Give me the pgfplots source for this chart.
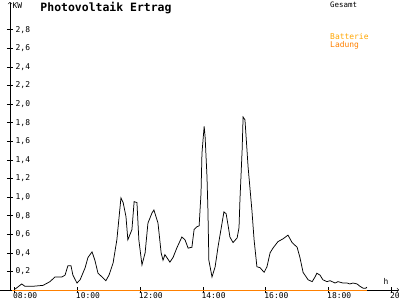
\documentclass[border=0pt]{standalone}
\usepackage{fontspec}
\setmainfont{DejaVu Sans Mono}
\usepackage{pgfplots}
\pgfplotsset{compat=1.18}
\definecolor{ladung}{RGB}{255,128,0}
\definecolor{batterie}{RGB}{255,165,0}
\begin{document}
\begin{tikzpicture}
\useasboundingbox (0bp,0bp) rectangle (400bp,300bp);
\draw[line width=0.6pt] (0bp,10bp) -- (10bp,10bp);
\begin{axis}[
  at={(10bp,10bp)}, anchor=south west,
  scale only axis, width=389bp, height=288bp,
  xmin=7.857, xmax=20.245, ymin=0, ymax=3.097,
  axis x line=bottom, axis y line=left,
  axis line style={->, line width=0.6pt},
  xtick={8,10,...,20},
  xticklabels={08:00,10:00,12:00,14:00,16:00,18:00,20:00},
  ytick={0.2,0.4,0.6,0.8,1.0,1.2,1.4,1.6,1.8,2.0,2.2,2.4,2.6,2.8},
  tick align=center, major tick length=6bp,
  tick style={black, line width=0.6pt},
  xticklabel style={anchor=north west, inner sep=0pt, yshift=0.5bp, xshift=-1.5bp},
  yticklabel style={anchor=west, inner sep=0pt, xshift=8.5bp},
  tick label style={font=\fontsize{8}{9}\selectfont},
  clip=false,
  /pgf/number format/.cd, use comma, fixed, fixed zerofill, precision=1, assume math mode=true,
]
\addplot[ladung, line width=1pt] coordinates {(7.93,0) (19.22,0)};
\addplot[black, line width=0.75pt] coordinates {
(8.02,0.01) (8.23,0.065) (8.33,0.04) (8.59,0.04) (8.91,0.05) (9.13,0.09)
(9.29,0.14) (9.51,0.14) (9.61,0.16) (9.70,0.26) (9.80,0.26) (9.86,0.16)
(9.99,0.075) (10.09,0.11) (10.25,0.24) (10.34,0.35) (10.47,0.41) (10.56,0.32)
(10.66,0.18) (10.79,0.14) (10.91,0.10) (11.01,0.16) (11.14,0.29) (11.26,0.54)
(11.39,0.99) (11.46,0.94) (11.55,0.79) (11.61,0.54) (11.74,0.65) (11.81,0.95)
(11.90,0.94) (11.96,0.54) (12.06,0.27) (12.16,0.40) (12.25,0.72) (12.38,0.83)
(12.44,0.86) (12.57,0.72) (12.67,0.40) (12.73,0.32) (12.79,0.38) (12.95,0.30)
(13.05,0.35) (13.18,0.46) (13.33,0.57) (13.43,0.54) (13.53,0.45) (13.65,0.46)
(13.72,0.65) (13.81,0.68) (13.88,0.69) (13.94,1.04) (13.97,1.47) (14.04,1.76)
(14.07,1.65) (14.13,1.22) (14.16,0.86) (14.19,0.32) (14.29,0.14) (14.39,0.25)
(14.48,0.46) (14.61,0.72) (14.67,0.84) (14.74,0.82) (14.80,0.70) (14.86,0.57)
(14.96,0.51) (15.09,0.56) (15.15,0.67) (15.18,0.97) (15.25,1.51) (15.28,1.86)
(15.34,1.83) (15.44,1.32) (15.56,0.86) (15.63,0.54) (15.72,0.25) (15.82,0.24)
(15.95,0.19) (16.04,0.25) (16.14,0.40) (16.23,0.45) (16.39,0.52) (16.55,0.55)
(16.71,0.59) (16.84,0.51) (17.00,0.46) (17.09,0.35) (17.19,0.19) (17.35,0.11)
(17.48,0.09) (17.57,0.14) (17.63,0.18) (17.73,0.16) (17.82,0.11) (17.95,0.09)
(18.05,0.10) (18.21,0.075) (18.30,0.09) (18.46,0.075) (18.59,0.075) (18.68,0.065)
(18.78,0.075) (18.91,0.065) (19.00,0.04) (19.10,0.02) (19.19,0.02) (19.22,0.03)
};
\end{axis}
\node[font=\bfseries\fontsize{11.5}{12}\selectfont] at (106bp,292bp) {Photovoltaik Ertrag};
\node[font=\fontsize{8}{9}\selectfont, anchor=west, inner sep=0pt] at (12.5bp,294.5bp) {KW};
\node[font=\fontsize{7.5}{9}\selectfont, anchor=west, inner sep=0pt] at (330bp,295bp) {Gesamt};
\node[font=\fontsize{8}{9}\selectfont, anchor=west, inner sep=0pt, text=batterie] at (330bp,263bp) {Batterie};
\node[font=\fontsize{8}{9}\selectfont, anchor=west, inner sep=0pt, text=ladung] at (330bp,255bp) {Ladung};
\node[font=\fontsize{8}{9}\selectfont, inner sep=0pt] at (386bp,19bp) {h};
\end{tikzpicture}
\end{document}
